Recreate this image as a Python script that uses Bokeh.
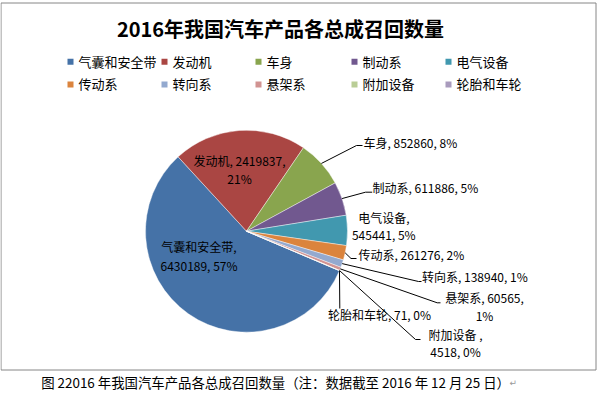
import numpy as np
from bokeh.plotting import figure
from bokeh.models import Range1d
from bokeh.core.properties import value
from bokeh.embed import file_html
from bokeh.resources import INLINE

# data
categories = ["气囊和安全带", "发动机", "车身", "制动系", "电气设备",
              "传动系", "转向系", "悬架系", "附加设备", "轮胎和车轮"]
counts = [6430189, 2419837, 852860, 611886, 545441, 261276, 138940, 60565, 4518, 71]
colors = ["#4572A7", "#AA4643", "#89A54E", "#71588F", "#4198AF",
          "#DB843D", "#93A9CF", "#D19392", "#B9CD96", "#A99BBD"]

title = "2016年我国汽车产品各总成召回数量"
caption = "图 22016 年我国汽车产品各总成召回数量（注：数据截至 2016 年 12 月 25 日）"

FONT = value("Noto Sans CJK SC")

W, H = 597, 402

# pixel coordinates: x = px from left, y = -px from top
p = figure(width=W, height=H, x_range=Range1d(0, W), y_range=Range1d(-H, 0),
           output_backend="svg", toolbar_location=None, tools="", min_border=0)
p.axis.visible = False
p.grid.visible = False
p.outline_line_color = None
p.background_fill_color = "white"

# chart frame
p.quad(left=0.5, right=595.5, top=-2.5, bottom=-369.5, fill_color=None,
       line_color="#868686", line_width=1)

# pie: Excel style, clockwise, first slice at 113 deg from 12 o'clock
cx, cy, r = 246, -230.7, 101
first = np.deg2rad(90 - 113)
vals = np.array(counts, dtype=float)
frac = vals / vals.sum()
cum = np.concatenate([[0], np.cumsum(frac)]) * 2 * np.pi
a_from = first - cum[:-1]
a_to = first - cum[1:]
p.wedge(x=cx, y=cy, radius=r, start_angle=a_to, end_angle=a_from,
        fill_color=colors, line_color="white", line_width=0.6, line_alpha=0.7)

mid = (a_from + a_to) / 2
ex = cx + r * np.cos(mid)
ey = cy + r * np.sin(mid)
pct = [int(round(f * 100)) for f in frac]

# label layout: text lines, x, screen y of each line, align, leader points
layout = {
    "气囊和安全带": (["{n},", "{v}, {p}%"], 198.5, [246, 265], "center", None),
    "发动机": (["{n}, {v},", "{p}%"], 239, [160, 178], "center", None),
    "车身": (["{n}, {v}, {p}%"], 363, [141.7], "left", [(356, 145), (362, 145)]),
    "制动系": (["{n}, {v}, {p}%"], 372, [187], "left", [(365, 191.7), (371.7, 191.7)]),
    "电气设备": (["{n},", "{v}, {p}%"], 383.3, [216.7, 234], "center", None),
    "传动系": (["{n}, {v}, {p}%"], 358, [254], "left", [(350.5, 258), (356, 258)]),
    "转向系": (["{n}, {v}, {p}%"], 421.5, [276], "left", [(418, 281), (421, 281)]),
    "悬架系": (["{n}, {v},", "{p}%"], 484, [296.7, 315], "center", [(436.7, 302.3), (440, 302.3)]),
    "附加设备": (["{n} ,", "{v}, {p}%"], 455, [334.3, 351], "center", [(415, 339), (420, 339)]),
    "轮胎和车轮": (["{n}, {v}, {p}%"], 379, [314], "center", [(339.3, 308)]),
}

lx, ly, lt, la = [], [], [], []
xs, ys = [], []
for i, name in enumerate(categories):
    lines, x, yl, align, leader = layout[name]
    for t, y in zip(lines, yl):
        lx.append(x)
        ly.append(-y)
        lt.append(t.format(n=name, v=counts[i], p=pct[i]))
        la.append(align)
    if leader:
        xs.append([ex[i]] + [pt[0] for pt in leader])
        ys.append([ey[i]] + [-pt[1] for pt in leader])

p.multi_line(xs=xs, ys=ys, line_color="black", line_width=1)
p.text(x=lx, y=ly, text=lt, text_align=la, text_baseline="middle",
       text_font=FONT, text_font_size="12px", text_color="black")

# title
p.text(x=[280], y=[-28.3], text=[title], text_align="center", text_baseline="middle",
       text_font=FONT, text_font_size="20px", text_font_style="bold", text_color="black")

# legend, two rows of five
col_x = [67, 161, 255, 351, 445]
row_y = [61.3, 84]
sq_x = [col_x[i % 5] + 3 for i in range(len(categories))]
sq_y = [-row_y[i // 5] for i in range(len(categories))]
p.rect(x=sq_x, y=sq_y, width=6, height=6, fill_color=colors, line_color=None)
p.text(x=[x + 8 for x in sq_x], y=[y + 0.6 for y in sq_y], text=categories,
       text_align="left", text_baseline="middle", text_font=FONT,
       text_font_size="13px", text_color="black")

# caption under the chart
p.text(x=[40.7], y=[-381.7], text=[caption], text_align="left", text_baseline="middle",
       text_font=FONT, text_font_size="13.4px", text_color="black")
p.text(x=[509], y=[-382], text=["↵"], text_align="left", text_baseline="middle",
       text_font=value("DejaVu Sans"), text_font_size="9px", text_color="#999999")

open("out.html", "w").write(file_html(p, INLINE))
